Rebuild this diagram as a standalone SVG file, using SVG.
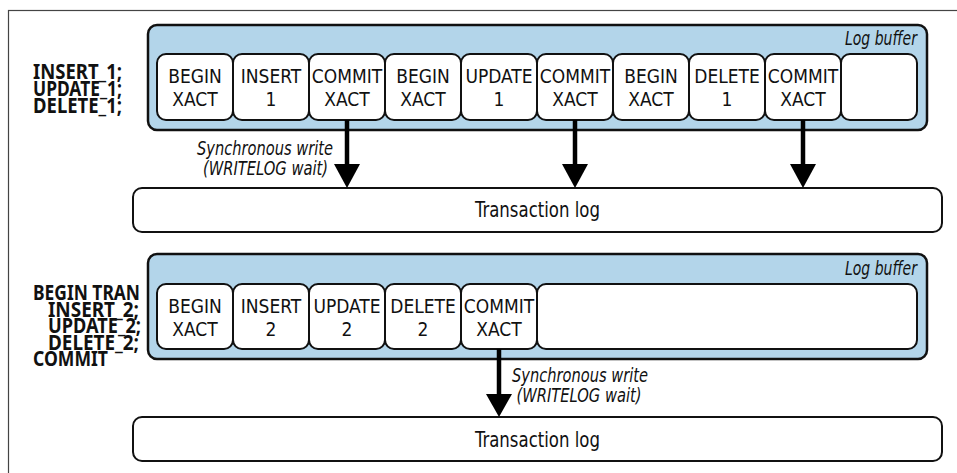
<svg xmlns="http://www.w3.org/2000/svg" width="957" height="473" viewBox="0 0 957 473">
<defs>
<style>
.frame{fill:none;stroke:#444;stroke-width:1.2}
.buf{fill:#b3d5ea;stroke:#111;stroke-width:2.5}
.cell{fill:#fff;stroke:#111;stroke-width:2}
.log{fill:#fff;stroke:#111;stroke-width:2}
.t{font-family:"Liberation Sans Narrow","DejaVu Sans Condensed","Liberation Sans",sans-serif;font-stretch:condensed;fill:#111}
.ct{font-size:19px;text-anchor:middle}
.lbl{font-family:"Noto Sans","Liberation Sans",sans-serif;font-stretch:condensed;font-size:21px;font-weight:bold}
.it{font-size:19px;font-style:italic}
.mid{text-anchor:middle}
.end{text-anchor:end}
.tl{font-size:21px;text-anchor:middle}
.conn line{stroke:#000;stroke-width:4.5}
.conn polygon{fill:#000}
</style>
</defs>
<rect class="frame" x="8.5" y="10.5" width="960" height="480"/>

<g id="stmts1" class="t lbl">
<text x="33" y="79" textLength="89" lengthAdjust="spacingAndGlyphs">INSERT_1;</text>
<text x="33" y="96" textLength="89" lengthAdjust="spacingAndGlyphs">UPDATE_1;</text>
<text x="33" y="113" textLength="89" lengthAdjust="spacingAndGlyphs">DELETE_1;</text>
</g>

<g id="buffer1">
<rect class="buf" x="148" y="25" width="779" height="105" rx="9"/>
<text class="t it end" x="917" y="45" textLength="72" lengthAdjust="spacingAndGlyphs">Log buffer</text>
</g>
<g id="b1c1"><rect class="cell" x="157" y="54" width="76" height="66" rx="9"/><text class="t ct" x="195" y="83">BEGIN</text><text class="t ct" x="195" y="106">XACT</text></g>
<g id="b1c2"><rect class="cell" x="233" y="54" width="76" height="66" rx="9"/><text class="t ct" x="271" y="83">INSERT</text><text class="t ct" x="271" y="106">1</text></g>
<g id="b1c3"><rect class="cell" x="309" y="54" width="76" height="66" rx="9"/><text class="t ct" x="347" y="83">COMMIT</text><text class="t ct" x="347" y="106">XACT</text></g>
<g id="b1c4"><rect class="cell" x="385" y="54" width="76" height="66" rx="9"/><text class="t ct" x="423" y="83">BEGIN</text><text class="t ct" x="423" y="106">XACT</text></g>
<g id="b1c5"><rect class="cell" x="461" y="54" width="76" height="66" rx="9"/><text class="t ct" x="499" y="83">UPDATE</text><text class="t ct" x="499" y="106">1</text></g>
<g id="b1c6"><rect class="cell" x="537" y="54" width="76" height="66" rx="9"/><text class="t ct" x="575" y="83">COMMIT</text><text class="t ct" x="575" y="106">XACT</text></g>
<g id="b1c7"><rect class="cell" x="613" y="54" width="76" height="66" rx="9"/><text class="t ct" x="651" y="83">BEGIN</text><text class="t ct" x="651" y="106">XACT</text></g>
<g id="b1c8"><rect class="cell" x="689" y="54" width="76" height="66" rx="9"/><text class="t ct" x="727" y="83">DELETE</text><text class="t ct" x="727" y="106">1</text></g>
<g id="b1c9"><rect class="cell" x="765" y="54" width="76" height="66" rx="9"/><text class="t ct" x="803" y="83">COMMIT</text><text class="t ct" x="803" y="106">XACT</text></g>
<g id="b1c10"><rect class="cell" x="841" y="54" width="76" height="66" rx="9"/></g>

<g id="log1">
<rect class="log" x="133" y="188" width="809" height="44" rx="9"/>
<text class="t tl" x="537.5" y="217" textLength="125" lengthAdjust="spacingAndGlyphs">Transaction log</text>
</g>

<g id="stmts2" class="t lbl">
<text x="33" y="300" textLength="107" lengthAdjust="spacingAndGlyphs">BEGIN TRAN</text>
<text x="48" y="316.5" textLength="91" lengthAdjust="spacingAndGlyphs">INSERT_2;</text>
<text x="48" y="333" textLength="93" lengthAdjust="spacingAndGlyphs">UPDATE_2;</text>
<text x="48" y="349.5" textLength="91" lengthAdjust="spacingAndGlyphs">DELETE_2;</text>
<text x="33" y="366" textLength="75" lengthAdjust="spacingAndGlyphs">COMMIT</text>
</g>

<g id="buffer2">
<rect class="buf" x="148" y="254" width="779" height="105" rx="9"/>
<text class="t it end" x="917" y="275" textLength="72" lengthAdjust="spacingAndGlyphs">Log buffer</text>
</g>
<g id="b2c1"><rect class="cell" x="157" y="284" width="76" height="65" rx="9"/><text class="t ct" x="195" y="313">BEGIN</text><text class="t ct" x="195" y="336">XACT</text></g>
<g id="b2c2"><rect class="cell" x="233" y="284" width="76" height="65" rx="9"/><text class="t ct" x="271" y="313">INSERT</text><text class="t ct" x="271" y="336">2</text></g>
<g id="b2c3"><rect class="cell" x="309" y="284" width="76" height="65" rx="9"/><text class="t ct" x="347" y="313">UPDATE</text><text class="t ct" x="347" y="336">2</text></g>
<g id="b2c4"><rect class="cell" x="385" y="284" width="76" height="65" rx="9"/><text class="t ct" x="423" y="313">DELETE</text><text class="t ct" x="423" y="336">2</text></g>
<g id="b2c5"><rect class="cell" x="461" y="284" width="76" height="65" rx="9"/><text class="t ct" x="499" y="313">COMMIT</text><text class="t ct" x="499" y="336">XACT</text></g>
<g id="b2c6"><rect class="cell" x="537" y="284" width="380" height="65" rx="9"/></g>

<g id="log2">
<rect class="log" x="133" y="417" width="809" height="44" rx="9"/>
<text class="t tl" x="537.5" y="447" textLength="125" lengthAdjust="spacingAndGlyphs">Transaction log</text>
</g>

<g id="connectors" class="conn">
<line x1="347" y1="120" x2="347" y2="166"/><polygon points="334,164 360,164 347,188"/>
<line x1="575" y1="120" x2="575" y2="166"/><polygon points="562,164 588,164 575,188"/>
<line x1="803" y1="120" x2="803" y2="166"/><polygon points="790,164 816,164 803,188"/>
<line x1="499" y1="349" x2="499" y2="396"/><polygon points="486,394 512,394 499,417"/>
</g>
<g id="labels" class="t it">
<text class="mid" x="265" y="155" textLength="136" lengthAdjust="spacingAndGlyphs">Synchronous write</text>
<text class="mid" x="265.5" y="175" textLength="125" lengthAdjust="spacingAndGlyphs">(WRITELOG wait)</text>
<text class="mid" x="580" y="382" textLength="136" lengthAdjust="spacingAndGlyphs">Synchronous write</text>
<text class="mid" x="579" y="402" textLength="125" lengthAdjust="spacingAndGlyphs">(WRITELOG wait)</text>
</g>
</svg>
